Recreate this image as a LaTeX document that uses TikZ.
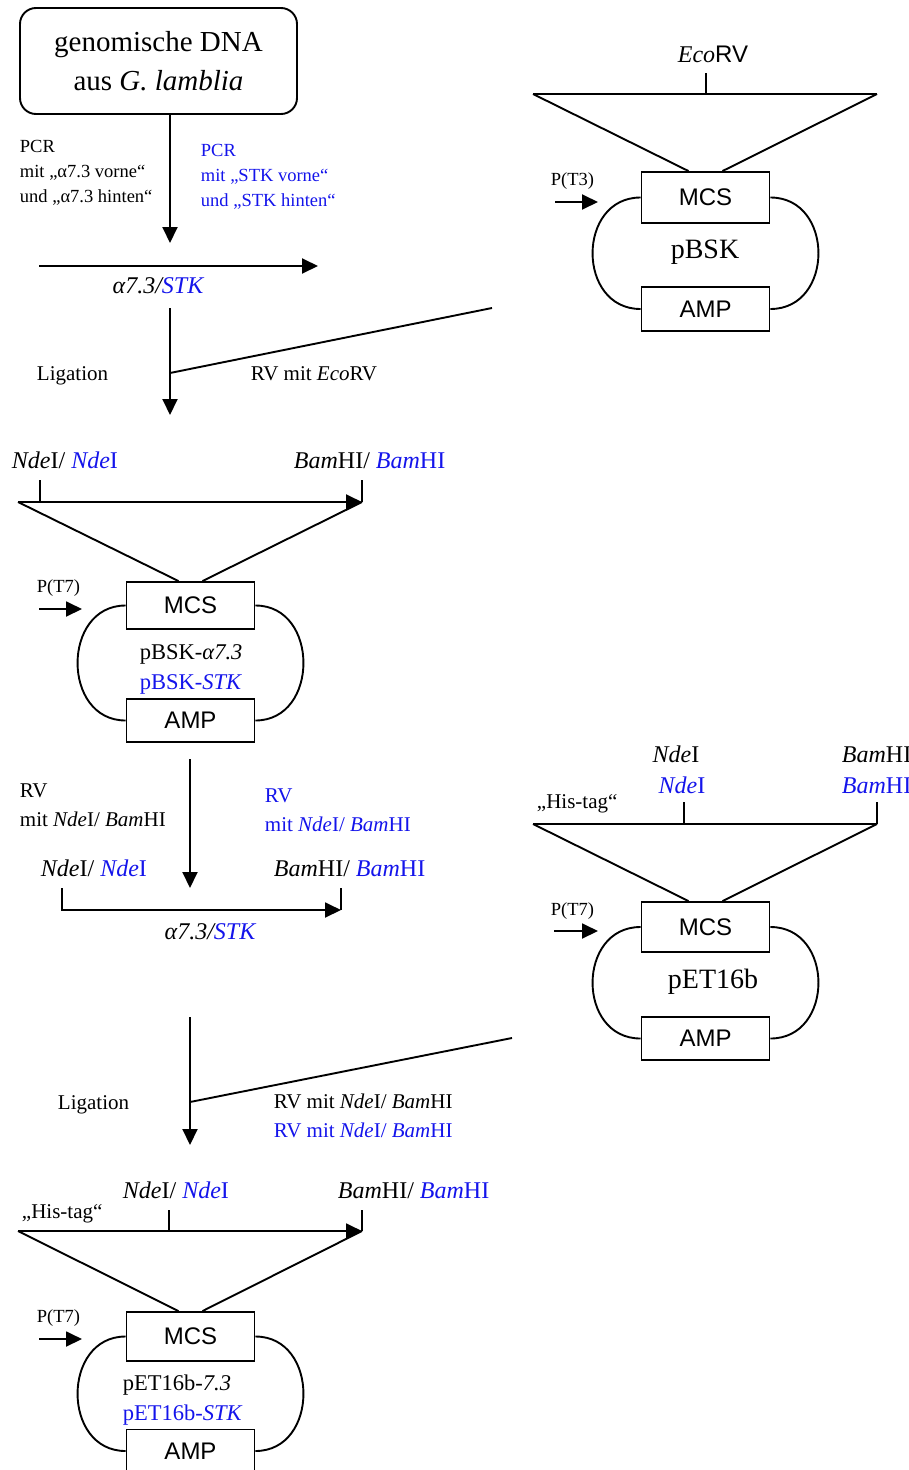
\documentclass[tikz,border=0pt]{standalone}
\usepackage{fontspec}
\setmainfont{Liberation Serif}
\setsansfont{Liberation Sans}
\usetikzlibrary{
    positioning,
    arrows.meta
}
\definecolor{stkblau}{RGB}{20,20,235}
\tikzset{
    >={Triangle[length=16pt,width=15pt]},
    dnabox/.style={
        draw,
        rounded corners=16pt,
        minimum width=277pt,
        minimum height=106pt,
        align=center,
        font=\fontsize{29}{39}\selectfont
    },
    element/.style={
        draw,
        minimum width=128pt,
        font=\sffamily\fontsize{24}{28}\selectfont
    },
    klein/.style={font=\fontsize{18.5}{25}\selectfont},
    mittel/.style={font=\fontsize{21}{29}\selectfont},
    gross/.style={font=\fontsize{24}{30}\selectfont},
    plasname/.style={font=\fontsize{28}{32}\selectfont},
    plastext/.style={font=\fontsize{22.5}{30}\selectfont},
    blau/.style={text=stkblau}
}

\begin{document}
\begin{tikzpicture}[
    x=1pt, y=-1pt,
    line width=1.9pt,
    every node/.style={inner sep=0pt}
]
    \useasboundingbox (0,0) rectangle (908,1470);
    \clip (0,0) rectangle (908,1470);

    % Ausgangsmaterial und PCR
    \node[dnabox] (gDNA) at (158.5,61) {genomische DNA\\aus \textit{G. lamblia}};
    \coordinate (pcrEnde) at (170,243);
    \draw[->] (gDNA.south -| pcrEnde) -- (pcrEnde);

    \node[klein, anchor=base west, align=left] (pcrA) at (19,202)
        {PCR\\mit „α7.3 vorne“\\und „α7.3 hinten“};
    \node[klein, blau, anchor=base west, align=left] (pcrS) at (200,206)
        {PCR\\mit „STK vorne“\\und „STK hinten“};

    \coordinate (fragL) at (39,266);
    \coordinate (fragR) at (318,266);
    \draw[->] (fragL) -- (fragR);
    \node[gross, anchor=base] (frag1) at (158,293) {\textit{α7.3/\textcolor{stkblau}{STK}}};

    % Ligation in pBSK
    \coordinate (lig1o) at (170,308);
    \coordinate (lig1u) at (170,415);
    \coordinate (lig1m) at (170,373);
    \coordinate (vek1) at (492,308);
    \draw[->] (lig1o) -- (lig1u);
    \draw (lig1m) -- (vek1);
    \node[mittel, anchor=base west] (ligA) at (36,380) {Ligation};
    \node[mittel, anchor=base west] (rvA) at (250,380) {RV mit \textit{Eco}RV};

    % Vektor pBSK
    \node[element, minimum height=51pt] (mcsA) at (705.5,197.5) {MCS};
    \node[element, minimum height=44pt] (ampA) at (705.5,309) {AMP};
    \node[plasname, anchor=base] (nameA) at (705,258) {pBSK};
    \draw (mcsA.west) .. controls +(-64,0) and +(-64,0) .. (ampA.west);
    \draw (mcsA.east) .. controls +(64,0) and +(64,0) .. (ampA.east);
    \coordinate (bskL) at (533,94);
    \coordinate (bskR) at (877,94);
    \draw (bskL) -- (bskR);
    \draw (bskL) -- ([xshift=-17pt]mcsA.north);
    \draw (bskR) -- ([xshift=17pt]mcsA.north);
    \coordinate (ecoA) at (706,73);
    \draw (ecoA) -- (ecoA |- bskL);
    \node[gross, anchor=base] (ecoT) at (713,62) {\textit{Eco}\textsf{RV}};
    \node[klein, anchor=base west] (ptA) at (550,185) {P(T3)};
    \coordinate (ptAa) at (555,202);
    \coordinate (ptAb) at (598,202);
    \draw[->] (ptAa) -- (ptAb);

    % pBSK mit Insert
    \node[gross, anchor=base west] (ndeB) at (11,468)
        {\textit{Nde}I/ \textcolor{stkblau}{\textit{Nde}I}};
    \node[gross, anchor=base west] (bamB) at (293,468)
        {\textit{Bam}HI/ \textcolor{stkblau}{\textit{Bam}HI}};
    \coordinate (insL) at (18,502);
    \coordinate (insR) at (362,502);
    \draw[->] (insL) -- (insR);
    \coordinate (ndeBt) at (40,480);
    \coordinate (bamBt) at (362,480);
    \draw (ndeBt) -- (ndeBt |- insL);
    \draw (bamBt) -- (bamBt |- insR);
    \node[element, minimum height=47pt] (mcsB) at (190.5,605.5) {MCS};
    \node[element, minimum height=43pt] (ampB) at (190.5,720.5) {AMP};
    \draw (mcsB.west) .. controls +(-64,0) and +(-64,0) .. (ampB.west);
    \draw (mcsB.east) .. controls +(64,0) and +(64,0) .. (ampB.east);
    \draw (insL) -- ([xshift=-12pt]mcsB.north);
    \draw (insR) -- ([xshift=12pt]mcsB.north);
    \node[plastext, anchor=base west] (nameB) at (139,659) {pBSK-\textit{α7.3}};
    \node[plastext, blau, anchor=base west] (nameBs) at (139,689) {pBSK-\textit{STK}};
    \node[klein, anchor=base west] (ptB) at (36,592) {P(T7)};
    \coordinate (ptBa) at (39,609);
    \coordinate (ptBb) at (82,609);
    \draw[->] (ptBa) -- (ptBb);

    % Restriktionsverdau
    \coordinate (rv2o) at (190,759);
    \coordinate (rv2u) at (190,888);
    \draw[->] (rv2o) -- (rv2u);
    \node[mittel, anchor=base west, align=left] (rvB) at (19,826)
        {RV\\mit \textit{Nde}I/ \textit{Bam}HI};
    \node[mittel, blau, anchor=base west, align=left] (rvBs) at (264,831)
        {RV\\mit \textit{Nde}I/ \textit{Bam}HI};
    \node[gross, anchor=base west] (ndeF) at (40,876)
        {\textit{Nde}I/ \textcolor{stkblau}{\textit{Nde}I}};
    \node[gross, anchor=base west] (bamF) at (273,876)
        {\textit{Bam}HI/ \textcolor{stkblau}{\textit{Bam}HI}};
    \coordinate (fr2L) at (62,888);
    \coordinate (fr2R) at (341,888);
    \coordinate (fr2E) at (341,910);
    \draw[->] (fr2L) |- (fr2E);
    \draw (fr2R) -- (fr2E);
    \node[gross, anchor=base] (frag2) at (210,939) {\textit{α7.3/\textcolor{stkblau}{STK}}};

    % Ligation in pET16b
    \coordinate (lig2o) at (190,1017);
    \coordinate (lig2u) at (190,1145);
    \coordinate (lig2m) at (190,1102);
    \coordinate (vek2) at (512,1038);
    \draw[->] (lig2o) -- (lig2u);
    \draw (lig2m) -- (vek2);
    \node[mittel, anchor=base west] (ligB) at (57,1109) {Ligation};
    \node[mittel, anchor=base west] (rvC) at (273,1108) {RV mit \textit{Nde}I/ \textit{Bam}HI};
    \node[mittel, blau, anchor=base west] (rvCs) at (273,1137) {RV mit \textit{Nde}I/ \textit{Bam}HI};

    % Vektor pET16b
    \node[element, minimum height=50pt] (mcsC) at (705.5,927) {MCS};
    \node[element, minimum height=43pt] (ampC) at (705.5,1038.5) {AMP};
    \node[plasname, anchor=base] (nameC) at (713,988) {pET16b};
    \draw (mcsC.west) .. controls +(-64,0) and +(-64,0) .. (ampC.west);
    \draw (mcsC.east) .. controls +(64,0) and +(64,0) .. (ampC.east);
    \coordinate (etL) at (533,824);
    \coordinate (etR) at (877,824);
    \draw (etL) -- (etR);
    \draw (etL) -- ([xshift=-17pt]mcsC.north);
    \draw (etR) -- ([xshift=17pt]mcsC.north);
    \coordinate (ndeCt) at (684,802);
    \coordinate (bamCt) at (877,802);
    \draw (ndeCt) -- (ndeCt |- etL);
    \draw (bamCt) -- (bamCt |- etR);
    \node[gross, anchor=base] (ndeC) at (676,762) {\textit{Nde}I};
    \node[gross, blau, anchor=base] (ndeCs) at (682,793) {\textit{Nde}I};
    \node[gross, anchor=base west] (bamC) at (841,762) {\textit{Bam}HI};
    \node[gross, blau, anchor=base west] (bamCs) at (841,793) {\textit{Bam}HI};
    \node[mittel, anchor=base west] (hisC) at (536,808) {„His-tag“};
    \node[klein, anchor=base west] (ptC) at (550,915) {P(T7)};
    \coordinate (ptCa) at (554,931);
    \coordinate (ptCb) at (598,931);
    \draw[->] (ptCa) -- (ptCb);

    % pET16b mit Insert
    \node[gross, anchor=base west] (ndeD) at (122,1198)
        {\textit{Nde}I/ \textcolor{stkblau}{\textit{Nde}I}};
    \node[gross, anchor=base west] (bamD) at (337,1198)
        {\textit{Bam}HI/ \textcolor{stkblau}{\textit{Bam}HI}};
    \node[mittel, anchor=base west] (hisD) at (21,1218) {„His-tag“};
    \coordinate (etbL) at (18,1231);
    \coordinate (etbR) at (362,1231);
    \draw[->] (etbL) -- (etbR);
    \coordinate (ndeDt) at (169,1210);
    \coordinate (bamDt) at (362,1210);
    \draw (ndeDt) -- (ndeDt |- etbL);
    \draw (bamDt) -- (bamDt |- etbR);
    \node[element, minimum height=49pt] (mcsD) at (190.5,1336.5) {MCS};
    \node[element, minimum height=43pt] (ampD) at (190.5,1451) {AMP};
    \draw (mcsD.west) .. controls +(-64,0) and +(-64,0) .. (ampD.west);
    \draw (mcsD.east) .. controls +(64,0) and +(64,0) .. (ampD.east);
    \draw (etbL) -- ([xshift=-12pt]mcsD.north);
    \draw (etbR) -- ([xshift=12pt]mcsD.north);
    \node[plastext, anchor=base west] (nameD) at (122,1390) {pET16b-\textit{7.3}};
    \node[plastext, blau, anchor=base west] (nameDs) at (122,1420) {pET16b-\textit{STK}};
    \node[klein, anchor=base west] (ptD) at (36,1322) {P(T7)};
    \coordinate (ptDa) at (39,1339);
    \coordinate (ptDb) at (82,1339);
    \draw[->] (ptDa) -- (ptDb);

\end{tikzpicture}
\end{document}
